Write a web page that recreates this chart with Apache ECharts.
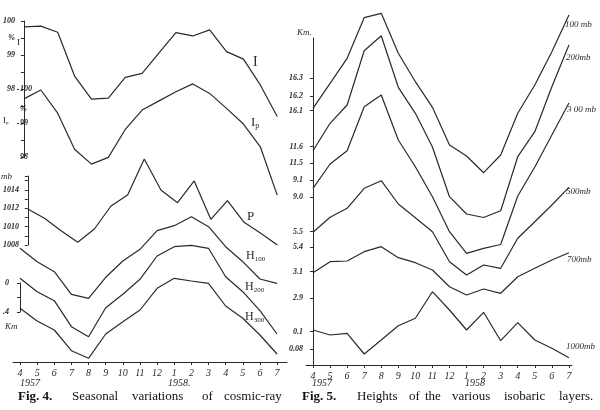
<!DOCTYPE html>
<html><head><meta charset="utf-8">
<script src="https://cdn.jsdelivr.net/npm/echarts@6/dist/echarts.min.js"></script>
<style>html,body{margin:0;padding:0;background:#fff}#c{width:600px;height:410px}</style>
</head><body><div id="c"></div>
<script>
// ---- categories (months, Apr 1957 .. Jul 1958)
const months = ['4','5','6','7','8','9','10','11','12','1','2','3','4','5','6','7'];

// ---- Fig. 4 series
const seriesI   = [99.83,99.85,99.67,98.38,97.70,97.73,98.34,98.46,99.06,99.66,99.56,99.74,99.10,98.88,98.12,97.19]; // %
const seriesIp  = [99.71,99.97,99.29,98.23,97.79,97.99,98.81,99.38,99.65,99.92,100.15,99.87,99.43,98.97,98.30,96.88]; // %
const seriesP   = [1011.91,1010.90,1009.55,1008.29,1009.74,1012.24,1013.43,1017.35,1013.98,1012.60,1014.96,1010.79,1012.82,1010.47,1009.27,1008.00]; // mb
const seriesH100 = [113.7,100.3,90.3,67.7,63.7,84.7,101,112.7,131.3,136.3,145.3,135.3,115.3,100.3,83,78.7]; // relative height
const seriesH200 = [83.7,70.3,61.3,35.3,25.3,54.3,67.7,82.7,106,115.3,116.7,113.7,85.3,70.3,51.3,28];
const seriesH300 = [53.7,41,32,11.3,3.7,28,40.3,52,73.7,83.7,81,78.7,56,43.7,27,8];

// ---- Fig. 5 series (relative heights, each layer on its own local scale)
const s100mb  = [256.7,281.7,306.7,347.3,351.7,311.7,283.3,257.7,220,209,192.3,210,251.7,280,313.3,350];
const s200mb  = [214.3,241.7,260,314.3,329.3,277.7,251.7,218,168.3,151,147.5,154.3,208.3,233.3,278.3,320];
const s300mb  = [176.7,201,214.3,258.3,270,225,198.3,168.3,133.3,111.7,116.7,120.5,169,198,230,262];
const s500mb  = [132.7,147.7,156.7,176.7,184.3,161,147.3,133.3,103.3,90,100,96.7,126.7,143.3,160,177.7];
const s700mb  = [92.3,103.3,104,113.3,118.3,107.3,102.3,95,78.3,70,76,71.7,88.3,96.7,105,112.3];
const s1000mb = [35,30,31.7,11,25,39.3,46.7,73.3,55,35,52.7,24.3,42.3,25,16.7,7.3];

// ---- tick labels
const iTickVals = [100,99.5,99,98];       const iTickText = ['100','%','99','98'];
const ipTickVals = [100,99.4,99,98];      const ipTickText = ['100','%','99','98'];
const pTickVals = [1014,1012,1010,1008];  const pTickText = ['1014','1012','1010','1008'];
const kmTickVals = [0,0.4];               const kmTickText = ['0','.4'];
const rTickVals = [287,269,254.3,218.3,201.7,185,168,133.3,117.7,93.3,66.7,33.3,15.7];
const rTickText = ['16.3','16.2','16.1','11.6','11.5','9.1','9.0','5.5','5.4','3.1','2.9','0.1','0.08'];

const idx = months.map((m,i)=>i);
const pairs = arr => arr.map((v,i)=>[i,v]);
const lookup = (vals, texts) => v => { for (let k=0;k<vals.length;k++) if (Math.abs(vals[k]-v)<1e-6) return texts[k]; return ''; };

const INK = '#2a2a2a';
const hand = {fontFamily:'Liberation Serif', fontStyle:'italic', color:INK};

function xAx(grid, min, max, show){
  return {type:'value', gridIndex:grid, min:min, max:max, show:show,
    axisLine:{show:true, onZero:false, lineStyle:{color:INK,width:1}},
    axisTick:{show:true, customValues:idx, length:3, lineStyle:{color:INK}},
    axisLabel:{show:true, customValues:idx, formatter:v=>months[Math.round(v)], margin:6, fontSize:10, ...hand},
    splitLine:{show:false}};
}
const xAxes = [xAx(0,-0.41,15.58,true), xAx(1,-0.41,15.58,false), xAx(2,-0.41,15.58,false), xAx(3,-0.41,15.58,false), xAx(4,-0.41,15.18,true)];

const yAxes = [
  {type:'value', gridIndex:0, min:0, max:350, show:false},
  {type:'value', gridIndex:1, min:96, max:100, position:'left',
    axisLine:{show:true, lineStyle:{color:INK}},
    axisTick:{show:true, customValues:[100,99.5,99,98.5,98,97.5,97,96.5,96], length:3, lineStyle:{color:INK}},
    axisLabel:{customValues:iTickVals, formatter:lookup(iTickVals,iTickText), margin:2, fontSize:8, fontWeight:'bold', ...hand},
    splitLine:{show:false}},
  {type:'value', gridIndex:1, min:98, max:102, position:'left',
    axisLine:{show:false},
    axisTick:{show:true, inside:true, customValues:[100,99], length:2, lineStyle:{color:INK}},
    axisLabel:{inside:true, customValues:ipTickVals, formatter:lookup(ipTickVals,ipTickText), margin:3, fontSize:8, fontWeight:'bold', ...hand},
    splitLine:{show:false}},
  {type:'value', gridIndex:2, min:1008, max:1015.5, position:'left',
    axisLine:{show:true, lineStyle:{color:INK}},
    axisTick:{show:true, customValues:[1015.5,1015,1014,1013,1012,1011,1010,1009,1008], length:3, lineStyle:{color:INK}},
    axisLabel:{customValues:pTickVals, formatter:lookup(pTickVals,pTickText), margin:2, fontSize:8, fontWeight:'bold', ...hand},
    splitLine:{show:false}},
  {type:'value', gridIndex:3, min:0, max:0.4, inverse:true, position:'left',
    axisLine:{show:true, lineStyle:{color:INK}},
    axisTick:{show:true, customValues:[0,0.2,0.4], length:3, lineStyle:{color:INK}},
    axisLabel:{customValues:kmTickVals, formatter:lookup(kmTickVals,kmTickText), margin:4, fontSize:8, fontWeight:'bold', ...hand},
    splitLine:{show:false}},
  {type:'value', gridIndex:4, min:0, max:327, position:'left',
    axisLine:{show:true, lineStyle:{color:INK}},
    axisTick:{show:true, customValues:rTickVals, length:3, lineStyle:{color:INK}},
    axisLabel:{customValues:rTickVals, formatter:lookup(rTickVals,rTickText), margin:3, fontSize:8, fontWeight:'bold', ...hand},
    splitLine:{show:false}}
];

function line(data, xi, yi){
  return {type:'line', xAxisIndex:xi, yAxisIndex:yi, data:pairs(data), showSymbol:false, symbol:'none',
    clip:false, silent:true, animation:false, lineStyle:{color:INK, width:1.2}};
}
const series = [
  line(seriesI,1,1), line(seriesIp,1,2), line(seriesP,2,3),
  line(seriesH100,0,0), line(seriesH200,0,0), line(seriesH300,0,0),
  line(s100mb,4,5), line(s200mb,4,5), line(s300mb,4,5), line(s500mb,4,5), line(s700mb,4,5), line(s1000mb,4,5)
];

function txt(x,y,text,style){
  return {type:'text', x:x, y:y, silent:true, style:Object.assign({text:text, fill:INK, verticalAlign:'middle', align:'left'}, style)};
}
const serifF = 'Liberation Serif';
const sub = (main, s, size) => ({text:'{a|'+main+'}{b|'+s+'}', rich:{a:{fontFamily:serifF, fontSize:size, fill:INK}, b:{fontFamily:serifF, fontSize:Math.round(size*0.6), fill:INK, padding:[size*0.45,0,0,0]}}});
const italicSmall = {fontFamily:serifF, fontStyle:'italic', fontSize:9};

const graphics = [
  txt(17,43,'I',{fontFamily:serifF, fontSize:9}),
  txt(3,121,'',sub('I','p',9)),
  txt(1,177,'mb',italicSmall),
  txt(5,327,'Km',italicSmall),
  txt(253,62,'I',{fontFamily:serifF, fontSize:14}),
  txt(251,123,'',sub('I','p',13)),
  txt(247,217,'P',{fontFamily:serifF, fontSize:13}),
  txt(246,256,'',sub('H','100',12)),
  txt(245,287,'',sub('H','200',12)),
  txt(245,317,'',sub('H','300',12)),
  txt(565,25,'100 mb',italicSmall),
  txt(566,58,'200mb',italicSmall),
  txt(567,110,'3 00 mb',italicSmall),
  txt(566,192,'500mb',italicSmall),
  txt(567,260,'700mb',italicSmall),
  txt(566,347,'1000mb',italicSmall),
  txt(297,33,'Km.',italicSmall),
  txt(20,383,'1957',{fontFamily:serifF, fontStyle:'italic', fontSize:10}),
  txt(168,383,'1958.',{fontFamily:serifF, fontStyle:'italic', fontSize:10}),
  txt(312,383,'1957',{fontFamily:serifF, fontStyle:'italic', fontSize:10}),
  txt(465,383,'1958',{fontFamily:serifF, fontStyle:'italic', fontSize:10})
];
const captionWords = [
  ['Fig. 4.',18,true],['Seasonal',72,false],['variations',132,false],['of',202,false],['cosmic-ray',224,false],
  ['Fig. 5.',302,true],['Heights',357,false],['of',409,false],['the',425,false],['various',452,false],['isobaric',504,false],['layers.',559,false]
];
captionWords.forEach(w => graphics.push(txt(w[1],397,w[0],{fontFamily:serifF, fontSize:13, fontWeight:w[2]?'bold':'normal', fill:'#111'})));

const chart = echarts.init(document.getElementById('c'), null, {renderer:'canvas'});
chart.setOption({
  backgroundColor:'#fff',
  animation:false,
  grid:[
    {left:13, top:12, width:274, height:350},
    {left:13, top:21, width:274, height:136},
    {left:13, top:176, width:274, height:69},
    {left:11, top:283, width:274, height:29},
    {left:306, top:38, width:266, height:327}
  ],
  xAxis:xAxes, yAxis:yAxes, series:series, graphic:graphics
});
</script></body></html>
